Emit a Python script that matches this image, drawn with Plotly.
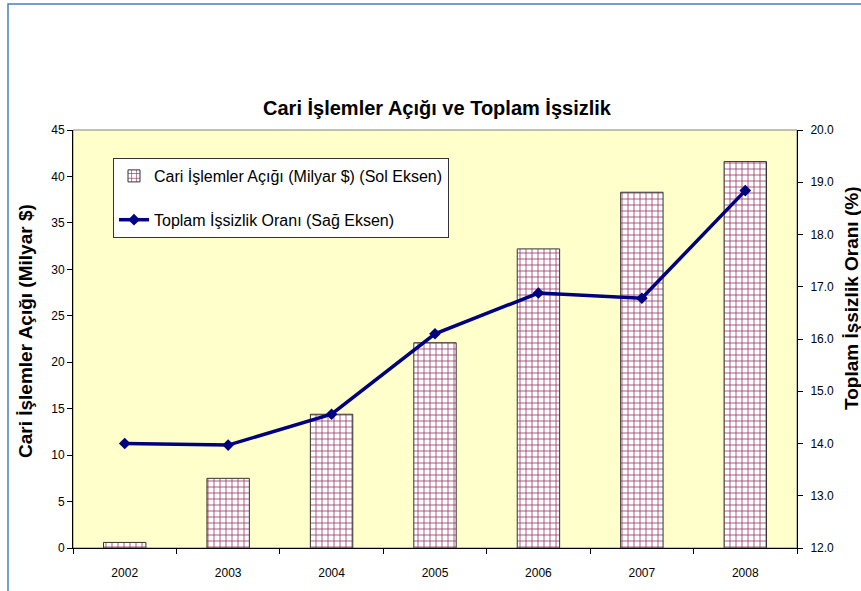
import plotly.graph_objects as go

years = ['2002', '2003', '2004', '2005', '2006', '2007', '2008']
cari_acik = [0.6, 7.5, 14.4, 22.1, 32.2, 38.3, 41.6]
issizlik = [14.0, 13.97, 14.56, 16.1, 16.88, 16.78, 18.84]
left_ticks = list(range(0, 50, 5))
right_ticks = [12.0, 13.0, 14.0, 15.0, 16.0, 17.0, 18.0, 19.0, 20.0]

FONT = "Arial, 'Liberation Sans', sans-serif"

fig = go.Figure()
fig.add_trace(go.Bar(
    x=years, y=cari_acik,
    name='Cari İşlemler Açığı (Milyar $) (Sol Eksen)',
    legendgroup='a',
    width=0.41,
    marker=dict(color='white',
                line=dict(color='#333333', width=1),
                pattern=dict(shape='+', fgcolor='#993366', bgcolor='white',
                             size=6, solidity=0.25, fillmode='replace')),
))
fig.add_trace(go.Scatter(
    x=years, y=issizlik, yaxis='y2',
    name='Toplam İşsizlik Oranı (Sağ Eksen)',
    legendgroup='b',
    mode='lines+markers',
    line=dict(color='#000080', width=3.5),
    marker=dict(symbol='diamond', size=9, color='#000080'),
))

fig.update_layout(
    width=861, height=591,
    margin=dict(l=73, r=64, t=130, b=43),
    paper_bgcolor='white',
    plot_bgcolor='#FFFFCC',
    font=dict(family=FONT, size=12, color='#000000'),
    title=dict(text='<b>Cari İşlemler Açığı ve Toplam İşsizlik</b>',
               font=dict(family=FONT, size=20, color='#000000'),
               x=437/861, xanchor='center', xref='container',
               y=1 - 108/591, yanchor='middle', yref='container'),
    showlegend=True,
    legend=dict(x=(113-73)/724, y=(548-158)/418, xanchor='left', yanchor='top',
                bgcolor='white', bordercolor='#333333', borderwidth=1,
                font=dict(family=FONT, size=16, color='#000000'),
                traceorder='grouped', tracegroupgap=20, itemwidth=30),
    xaxis=dict(type='category', range=[-0.5, 6.5], tickson='boundaries',
               ticks='outside', ticklen=5, tickcolor='#000000',
               showline=True, linecolor='#000000', linewidth=1,
               showgrid=False, tickfont=dict(size=12), ticklabelstandoff=14),
    yaxis=dict(range=[0, 45], tickvals=left_ticks, ticks='outside', ticklen=5,
               tickcolor='#000000', showline=True, linecolor='#000000',
               linewidth=1, showgrid=False, zeroline=False,
               tickfont=dict(size=12)),
    yaxis2=dict(range=[12, 20], tickvals=right_ticks, tickformat='.1f',
                overlaying='y', side='right', ticks='outside', ticklen=5,
                tickcolor='#000000', showline=True, linecolor='#000000',
                linewidth=1, showgrid=False, zeroline=False,
                tickfont=dict(size=12), ticklabelstandoff=5),
    shapes=[
        dict(type='rect', xref='paper', yref='paper', x0=0, x1=1, y0=0, y1=1,
             line=dict(color='#808080', width=1), layer='below'),
        dict(type='rect', xref='paper', yref='paper',
             x0=(8-73)/724, x1=1.3, y0=-0.5, y1=(548-4)/418,
             line=dict(color='#4a7ebb', width=1.5), layer='below'),
    ],
    annotations=[
        dict(text='<b>Cari İşlemler Açığı (Milyar $)</b>', textangle=-90,
             xref='paper', yref='paper', x=(25-73)/724, y=(548-331)/418,
             xanchor='center', yanchor='middle', showarrow=False,
             font=dict(family=FONT, size=19, color='#000000')),
        dict(text='<b>Toplam İşsizlik Oranı (%)</b>', textangle=-90,
             xref='paper', yref='paper', x=(851-73)/724, y=(548-299)/418,
             xanchor='center', yanchor='middle', showarrow=False,
             font=dict(family=FONT, size=19, color='#000000')),
    ],
)

fig.write_html('out.html', config={'displayModeBar': False},
               post_script="document.body.style.margin='0';document.body.style.overflow='hidden';")
